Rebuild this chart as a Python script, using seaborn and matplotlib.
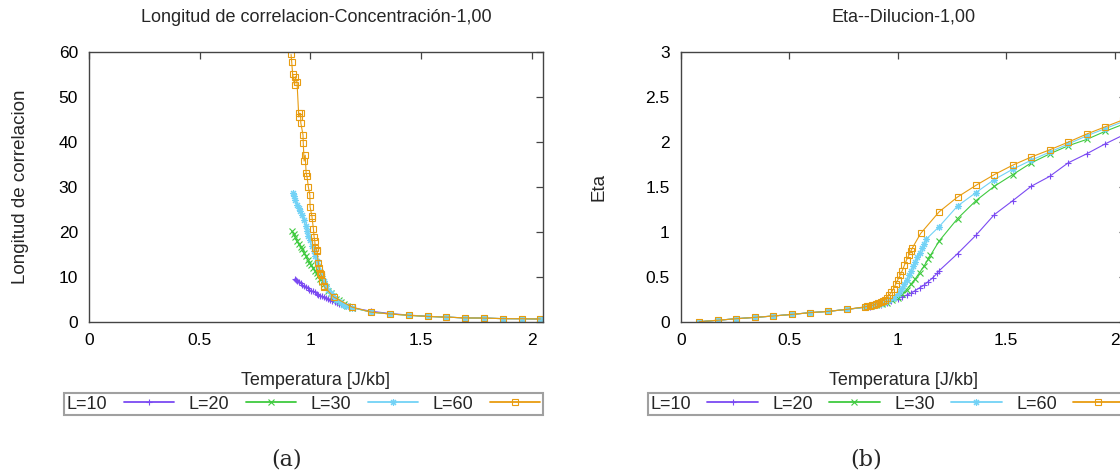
import matplotlib
matplotlib.use("Agg")
import matplotlib.pyplot as plt
import seaborn as sns
import pandas as pd

# ---------------- data ----------------
labels = ["L=10", "L=20", "L=30", "L=60"]
colors = ["#7b4af2", "#3fca3f", "#72d2f6", "#e89c10"]
markers = ["+", "x", (8, 2, 0), "s"]

# (a) correlation length vs temperature
T_tail = [1.275, 1.36, 1.445, 1.53, 1.615, 1.70, 1.785, 1.87, 1.955, 2.04]
xi_tail = [2.2, 1.8, 1.5, 1.25, 1.1, 0.92, 0.88, 0.76, 0.74, 0.68]

T_xi_10 = [0.93, 0.935, 0.94, 0.948, 0.956, 0.964, 0.972, 0.98, 0.988, 0.996,
           1.004, 1.012, 1.02, 1.028, 1.036, 1.044, 1.052, 1.06, 1.07, 1.08,
           1.09, 1.10, 1.11, 1.12, 1.13, 1.14, 1.15, 1.16, 1.17, 1.18, 1.19, 1.20]
xi_10 = [9.6, 9.4, 9.1, 8.8, 8.6, 8.3, 8.0, 7.8, 7.5, 7.2,
         7.0, 6.8, 6.6, 6.3, 6.1, 5.9, 5.7, 5.5, 5.3, 5.1,
         4.9, 4.7, 4.5, 4.3, 4.1, 4.0, 3.8, 3.6, 3.5, 3.4, 3.3, 3.1]
xi_tail_10 = [2.4, 1.9, 1.55, 1.28, 1.1, 0.92, 0.88, 0.76, 0.74, 0.68]

T_xi_20 = [0.918, 0.925, 0.932, 0.94, 0.948, 0.956, 0.964, 0.972, 0.98, 0.988,
           0.996, 1.004, 1.012, 1.02, 1.028, 1.036, 1.044, 1.052, 1.06, 1.07,
           1.08, 1.092, 1.104, 1.116, 1.128, 1.14, 1.152, 1.165, 1.19]
xi_20 = [20.2, 19.5, 18.9, 18.0, 17.3, 16.8, 16.2, 15.4, 14.6, 13.9,
         13.2, 12.6, 12.0, 11.4, 10.8, 10.3, 9.6, 9.0, 8.4, 7.7,
         7.0, 6.4, 5.8, 5.2, 4.8, 4.4, 4.0, 3.6, 3.2]

T_xi_30 = [0.922, 0.927, 0.933, 0.94, 0.947, 0.955, 0.964, 0.972, 0.98, 0.986,
           0.991, 0.998, 1.007, 1.015, 1.023, 1.03, 1.036, 1.044, 1.052, 1.062,
           1.071, 1.082, 1.092, 1.104, 1.116, 1.132, 1.149, 1.16, 1.19]
xi_30 = [28.6, 28.0, 27.2, 26.1, 25.3, 24.6, 23.9, 22.6, 21.3, 20.2,
         19.1, 18.2, 16.9, 15.8, 14.7, 13.5, 12.4, 11.3, 10.2, 9.1,
         8.0, 7.2, 6.5, 5.7, 5.0, 4.4, 3.9, 3.6, 3.2]

T_xi_60 = [0.913, 0.916, 0.92, 0.929, 0.932, 0.94, 0.948, 0.949, 0.956, 0.957,
           0.967, 0.968, 0.972, 0.977, 0.981, 0.985, 0.991, 0.998, 0.999, 1.007,
           1.008, 1.014, 1.017, 1.02, 1.023, 1.028, 1.031, 1.036, 1.04, 1.044,
           1.047, 1.05, 1.055, 1.06, 1.062, 1.105, 1.19]
xi_60 = [59.5, 57.8, 55.2, 52.7, 54.6, 53.3, 45.6, 46.4, 46.4, 44.3,
         41.6, 39.9, 35.8, 37.1, 33.2, 32.4, 30.1, 28.2, 25.6, 23.6,
         23.2, 20.7, 19.0, 18.1, 16.5, 16.0, 15.8, 13.2, 12.0, 11.0,
         10.6, 10.4, 9.2, 8.1, 7.9, 5.6, 3.3]

# (b) eta vs temperature
T_low = [0.085, 0.17, 0.255, 0.34, 0.425, 0.51, 0.595, 0.68, 0.765]
eta_low = [0.004, 0.02, 0.037, 0.052, 0.067, 0.085, 0.104, 0.119, 0.141]

T_eta_10 = [0.85, 0.87, 0.9, 0.92, 0.95, 0.97, 1.0, 1.02, 1.04, 1.06, 1.08,
            1.10, 1.12, 1.14, 1.16, 1.18, 1.19,
            1.275, 1.36, 1.445, 1.53, 1.615, 1.70, 1.785, 1.87, 1.955, 2.04]
eta_10 = [0.165, 0.172, 0.185, 0.195, 0.21, 0.23, 0.26, 0.28, 0.30, 0.32, 0.35,
          0.38, 0.41, 0.45, 0.49, 0.54, 0.57,
          0.76, 0.965, 1.195, 1.35, 1.51, 1.62, 1.77, 1.87, 1.98, 2.08]

T_eta_20 = [0.85, 0.875, 0.9, 0.925, 0.95, 0.975, 1.0, 1.02, 1.04, 1.06, 1.08,
            1.10, 1.12, 1.14, 1.15,
            1.19, 1.275, 1.36, 1.445, 1.53, 1.615, 1.70, 1.785, 1.87, 1.955, 2.04]
eta_20 = [0.165, 0.175, 0.185, 0.2, 0.215, 0.24, 0.27, 0.31, 0.36, 0.42, 0.48,
          0.55, 0.62, 0.70, 0.74,
          0.90, 1.15, 1.35, 1.51, 1.64, 1.77, 1.87, 1.96, 2.03, 2.12, 2.20]

T_eta_30 = [0.85, 0.88, 0.9, 0.92, 0.94, 0.96, 0.98, 1.0, 1.01, 1.02, 1.03,
            1.04, 1.05, 1.06, 1.07, 1.08, 1.09, 1.10, 1.11, 1.12, 1.13,
            1.19, 1.275, 1.36, 1.445, 1.53, 1.615, 1.70, 1.785, 1.87, 1.955, 2.04]
eta_30 = [0.165, 0.18, 0.19, 0.2, 0.22, 0.24, 0.27, 0.31, 0.34, 0.38, 0.42,
          0.47, 0.52, 0.57, 0.62, 0.67, 0.72, 0.77, 0.82, 0.87, 0.92,
          1.06, 1.29, 1.44, 1.585, 1.70, 1.80, 1.89, 1.98, 2.07, 2.15, 2.23]

T_eta_60 = [0.85, 0.86, 0.87, 0.88, 0.89, 0.90, 0.91, 0.92, 0.93, 0.94, 0.95,
            0.96, 0.97, 0.98, 0.99, 1.0, 1.01, 1.02, 1.03, 1.04, 1.05, 1.06, 1.066,
            1.105, 1.19, 1.275, 1.36, 1.445, 1.53, 1.615, 1.70, 1.785, 1.87, 1.955, 2.04]
eta_60 = [0.17, 0.175, 0.18, 0.185, 0.19, 0.20, 0.21, 0.22, 0.235, 0.25, 0.27,
          0.30, 0.33, 0.37, 0.42, 0.47, 0.52, 0.57, 0.63, 0.69, 0.74, 0.79, 0.82,
          0.985, 1.225, 1.39, 1.52, 1.64, 1.745, 1.835, 1.915, 2.0, 2.09, 2.17, 2.25]

# ---------------- style ----------------
sns.set_theme(style="white")
plt.rcParams["font.family"] = ["Liberation Sans", "DejaVu Sans"]

fig = plt.figure(figsize=(11.2, 4.75), dpi=100)
ax1 = fig.add_axes([0.0795, 0.322, 0.405, 0.568])
ax2 = fig.add_axes([0.608, 0.322, 0.397, 0.568])

series_a = [
    (T_xi_10 + T_tail, xi_10 + xi_tail_10),
    (T_xi_20 + T_tail, xi_20 + xi_tail),
    (T_xi_30 + T_tail, xi_30 + xi_tail),
    (T_xi_60 + T_tail, xi_60 + xi_tail),
]
series_b = [
    (T_low + T_eta_10, eta_low + eta_10),
    (T_low + T_eta_20, eta_low + eta_20),
    (T_low + T_eta_30, eta_low + eta_30),
    (T_low + T_eta_60, eta_low + eta_60),
]


def draw(ax, series):
    for (x, y), lab, col, mk in zip(series, labels, colors, markers):
        df = pd.DataFrame({"T": x, "v": y})
        sns.lineplot(data=df, x="T", y="v", ax=ax, color=col, marker=mk,
                     markersize=4.8 if mk == "s" else 5.0,
                     markeredgewidth=0.8, markeredgecolor=col,
                     markerfacecolor="none" if mk == "s" else col,
                     linewidth=0.8, estimator=None, sort=False, label=lab,
                     legend=False)
    for s in ax.spines.values():
        s.set_color("#444444")
        s.set_linewidth(1.0)
    ax.tick_params(direction="in", top=True, right=True, length=5, width=0.9,
                   colors="#444444", labelcolor="black", labelsize=12.5, pad=8)
    ax.set_xlim(0, 2.05)
    ax.set_xticks([0, 0.5, 1, 1.5, 2])
    ax.set_xticklabels(["0", "0.5", "1", "1.5", "2"])


draw(ax1, series_a)
draw(ax2, series_b)

ax1.set_ylim(0, 60)
ax1.set_yticks([0, 10, 20, 30, 40, 50, 60])
ax2.set_ylim(0, 3)
ax2.set_yticks([0, 0.5, 1, 1.5, 2, 2.5, 3])
ax2.set_yticklabels(["0", "0.5", "1", "1.5", "2", "2.5", "3"])

ax1.set_title("Longitud de correlacion-Concentración-1,00", fontsize=13, pad=22)
ax2.set_title("Eta--Dilucion-1,00", fontsize=13, pad=22)
for ax in (ax1, ax2):
    ax.set_xlabel("Temperatura [J/kb]", fontsize=13)
    ax.xaxis.set_label_coords(0.5, -0.185)
    ax.xaxis.label.set_va("top")
ax1.set_ylabel("Longitud de correlacion", fontsize=13.5)
ax1.yaxis.set_label_coords(-0.132, 0.5)
ax2.set_ylabel("Eta", fontsize=13.5)
ax2.yaxis.set_label_coords(-0.165, 0.5)

for ax, cx in ((ax1, 0.271), (ax2, 0.792)):
    handles = ax.get_lines()[:4]
    leg = fig.legend(handles=handles, labels=labels, ncol=4, loc="center",
                     bbox_to_anchor=(cx, 0.149),
                     markerfirst=False, numpoints=1,
                     handlelength=2.8, handletextpad=0.9, columnspacing=0.8,
                     fontsize=13, fancybox=False, frameon=True,
                     borderpad=0.15, borderaxespad=0)
    leg.get_frame().set_edgecolor("#888888")
    leg.get_frame().set_linewidth(1.5)
    for h in leg.legend_handles:
        h.set_linewidth(1.3)

fig.text(0.256, 0.032, "(a)", family=["DejaVu Serif"], fontsize=16,
         ha="center", va="center")
fig.text(0.773, 0.032, "(b)", family=["DejaVu Serif"], fontsize=16,
         ha="center", va="center")

fig.savefig("out.png", dpi=100)
